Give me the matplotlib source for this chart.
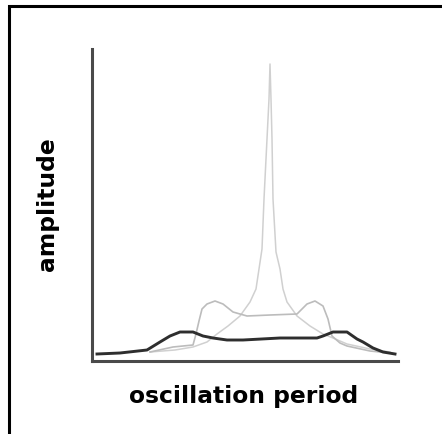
import numpy as np
import matplotlib.pyplot as plt
from matplotlib.patches import Rectangle

plt.rcParams['font.family'] = ['DejaVu Sans']

# curves (x = period, y = amplitude, arbitrary units)
dark_x = [5, 28, 55, 68, 78, 88, 101, 111, 121, 135, 151, 188, 225, 231, 241, 255, 265, 271, 281, 291, 303]
dark_y = [7, 8, 11, 19, 25, 29, 29, 25, 23, 21, 21, 23, 23, 25, 29, 29, 22, 19, 13, 9, 7]

plateau_x = [58, 81, 101, 104, 107, 110, 115, 123, 131, 141, 155, 178, 205,
             215, 223, 231, 236, 240, 248, 255, 278, 298]
plateau_y = [9, 14, 16, 27, 40, 52, 57, 60, 57, 49, 45, 46, 47,
             57, 60, 55, 42, 25, 18, 15, 10, 8]

spike_x = [58, 83, 101, 115, 125, 136, 148, 158, 164, 167, 170, 172, 175, 177, 178,
           179, 180, 181, 184, 188, 191, 195, 205, 218, 231, 241, 255, 278, 298]
spike_y = [9, 11, 14, 19, 27, 35, 45, 59, 72, 92, 112, 162, 222, 262, 297,
           262, 222, 162, 109, 92, 72, 59, 45, 35, 27, 23, 17, 12, 9]

fig = plt.figure(figsize=(4.42, 4.35), dpi=100)
#frame round the picture
fig.patches.append(Rectangle((9/442, -0.2), 1.3, 1.2 - 7/435, transform=fig.transFigure,
                             fill=False, edgecolor='black', linewidth=2.2, clip_on=False))
ax = fig.add_axes([92/442, 73/435, 306/442, 312/435])
ax.plot(spike_x, spike_y, color='#d0d0d0', linewidth=1.1)
ax.plot(plateau_x, plateau_y, color='#bcbcbc', linewidth=1.2)
ax.plot(dark_x, dark_y, color='#2e2e2e', linewidth=2.1)
ax.set_xlim(0, 306)
ax.set_ylim(0, 312)
ax.set_xticks([])
ax.set_yticks([])
for s in ['top', 'right']:
    ax.spines[s].set_visible(False)
for s in ['left', 'bottom']:
    ax.spines[s].set_color('#4a4a4a')
    ax.spines[s].set_linewidth(2.2)
fig.text(244/442, 1 - 397/435, 'oscillation period', ha='center', va='center',
         fontsize=16.8, fontweight='bold')
fig.text(47/442, 1 - 204/435, 'amplitude', ha='center', va='center', rotation=90,
         fontsize=16.8, fontweight='bold')
fig.savefig('out.png', dpi=100)
